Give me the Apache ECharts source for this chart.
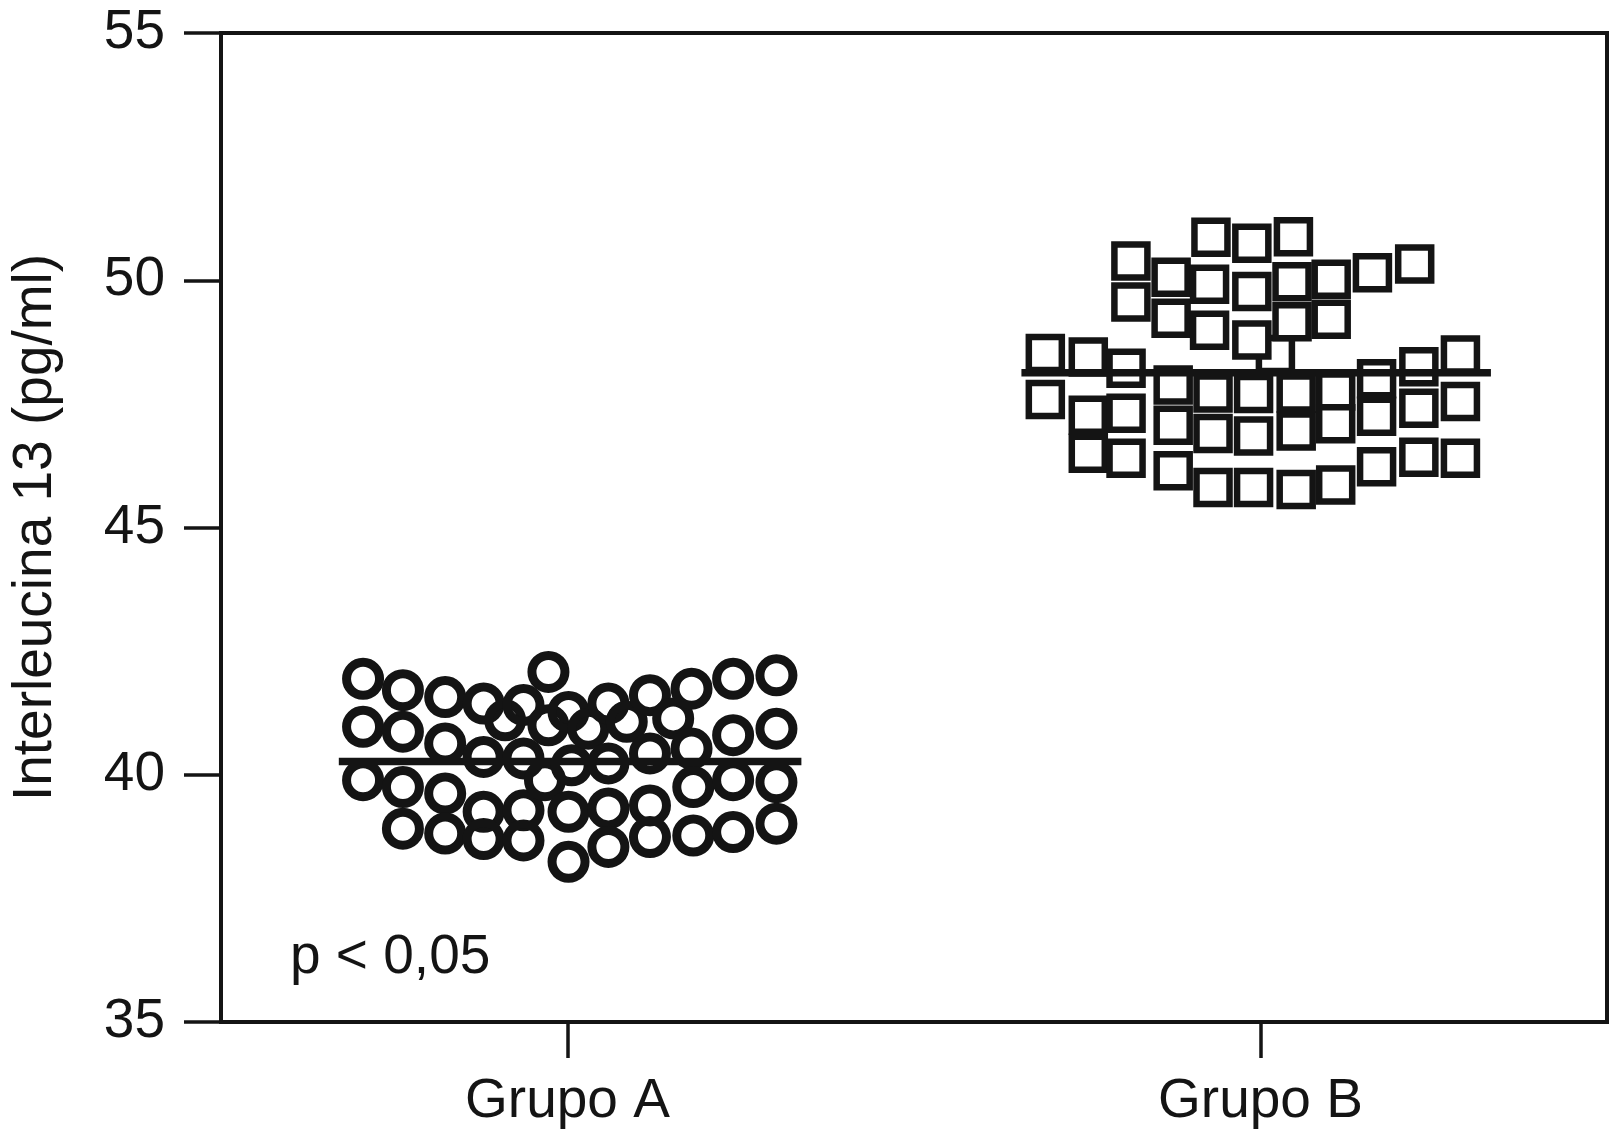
<!DOCTYPE html>
<html>
<head>
<meta charset="utf-8">
<title>Interleucina 13</title>
<script src="https://cdn.jsdelivr.net/npm/echarts@6/dist/echarts.min.js"></script>
<style>
  html, body { margin: 0; padding: 0; background: #fff; }
  #chart { width: 1610px; height: 1138px; }
</style>
</head>
<body>
<div id="chart"></div>
<script>
// grupos y su posicion en el eje x (valor)
const categories = ['Grupo A', 'Grupo B']
const categoryPos = [1, 3]
const yTicks = [35, 40, 45, 50, 55]

// medias (linea horizontal)
const meanA = 40.27
const meanB = 48.13
const meanSpanA = [0.34, 1.675]
const meanSpanB = [2.31, 3.665]

// Grupo A: [x, IL-13]
const pointsA = [
  [0.41, 41.94], [0.41, 40.97], [0.41, 39.89],
  [0.525, 41.71], [0.525, 40.87], [0.525, 39.75], [0.525, 38.91],
  [0.647, 41.57], [0.647, 40.63], [0.647, 39.62], [0.647, 38.81],
  [0.758, 41.44], [0.758, 40.36], [0.758, 39.25], [0.758, 38.70],
  [0.82, 41.10],
  [0.873, 41.41], [0.873, 40.33], [0.873, 39.28], [0.873, 38.67],
  [0.945, 42.08], [0.945, 41.00], [0.935, 39.89],
  [1.003, 41.27], [1.012, 40.19], [1.003, 39.25], [1.003, 38.24],
  [1.06, 40.93],
  [1.118, 41.44], [1.118, 40.23], [1.118, 39.32], [1.118, 38.54],
  [1.171, 41.07],
  [1.238, 41.61], [1.238, 40.43], [1.238, 39.38], [1.238, 38.74],
  [1.305, 41.14],
  [1.358, 41.74], [1.358, 40.53], [1.363, 39.75], [1.363, 38.77],
  [1.478, 41.94], [1.478, 40.80], [1.478, 39.89], [1.478, 38.84],
  [1.603, 42.01], [1.603, 40.93], [1.603, 39.85], [1.603, 39.01]
]

// Grupo B: [x, IL-13]
const pointsB = [
  [3.043, 48.50],
  [2.379, 48.52], [2.379, 47.59],
  [2.503, 48.45], [2.503, 47.27], [2.503, 46.50],
  [2.626, 50.39], [2.626, 49.56], [2.612, 48.22], [2.612, 47.31], [2.612, 46.40],
  [2.742, 50.06], [2.742, 49.23], [2.748, 47.88], [2.748, 47.07], [2.748, 46.15],
  [2.857, 50.87], [2.853, 49.92], [2.853, 48.99], [2.863, 47.72], [2.863, 46.90], [2.863, 45.81],
  [2.975, 50.75], [2.975, 49.77], [2.975, 48.79], [2.98, 47.71], [2.98, 46.85], [2.98, 45.81],
  [3.095, 50.88], [3.091, 49.97], [3.091, 49.16], [3.103, 47.72], [3.103, 46.95], [3.103, 45.77],
  [3.204, 50.02], [3.204, 49.21], [3.217, 47.76], [3.217, 47.10], [3.217, 45.86],
  [3.323, 50.15], [3.335, 48.01], [3.335, 47.25], [3.335, 46.23],
  [3.445, 50.33], [3.457, 48.25], [3.457, 47.41], [3.457, 46.42],
  [3.577, 48.49], [3.577, 47.55], [3.577, 46.40]
]

const ink = '#141414'
const font = 'Liberation Sans, Arial, sans-serif'

let myChart = echarts.init(document.getElementById('chart'))
myChart.setOption({
  animation: false,
  grid: {
    left: 219,
    right: 3,
    top: 33,
    bottom: 116,
    show: true,
    borderColor: ink,
    borderWidth: 4
  },
  xAxis: {
    type: 'value',
    min: 0,
    max: 4,
    splitLine: { show: false },
    axisLine: { show: true, lineStyle: { color: ink, width: 4 } },
    axisTick: {
      show: true,
      customValues: categoryPos,
      length: 36,
      lineStyle: { color: ink, width: 3.5 }
    },
    axisLabel: {
      customValues: categoryPos,
      margin: 52,
      fontSize: 55,
      fontFamily: font,
      color: ink,
      formatter: (v) => categories[categoryPos.indexOf(v)]
    }
  },
  yAxis: {
    type: 'value',
    min: yTicks[0],
    max: yTicks[yTicks.length - 1],
    interval: 5,
    name: 'Interleucina 13 (pg/ml)',
    nameLocation: 'middle',
    nameGap: 158,
    nameTextStyle: { fontSize: 55, fontFamily: font, color: ink },
    splitLine: { show: false },
    axisLine: { show: true, lineStyle: { color: ink, width: 4 } },
    axisTick: { show: true, length: 37, lineStyle: { color: ink, width: 3.5 } },
    axisLabel: { margin: 56, fontSize: 55, fontFamily: font, color: ink }
  },
  graphic: [
    {
      type: 'text',
      left: 290,
      top: 930,
      style: { text: 'p < 0,05', fontSize: 55, fontFamily: font, fill: ink }
    }
  ],
  series: [
    {
      name: 'Grupo A',
      type: 'scatter',
      symbol: 'circle',
      symbolSize: 33,
      itemStyle: { color: 'rgba(0,0,0,0)', borderColor: ink, borderWidth: 9, opacity: 1 },
      data: pointsA,
      z: 2
    },
    {
      name: 'Grupo B',
      type: 'scatter',
      symbol: 'rect',
      symbolSize: 33,
      itemStyle: { color: '#fff', borderColor: ink, borderWidth: 6.5, opacity: 1 },
      data: pointsB,
      z: 2
    },
    {
      name: 'media A',
      type: 'line',
      symbol: 'none',
      lineStyle: { color: ink, width: 7.5 },
      data: meanSpanA.map(x => [x, meanA]),
      z: 5
    },
    {
      name: 'media B',
      type: 'line',
      symbol: 'none',
      lineStyle: { color: ink, width: 7.5 },
      data: meanSpanB.map(x => [x, meanB]),
      z: 5
    }
  ]
})
window.addEventListener('resize', () => { myChart.resize() })
</script>
</body>
</html>
